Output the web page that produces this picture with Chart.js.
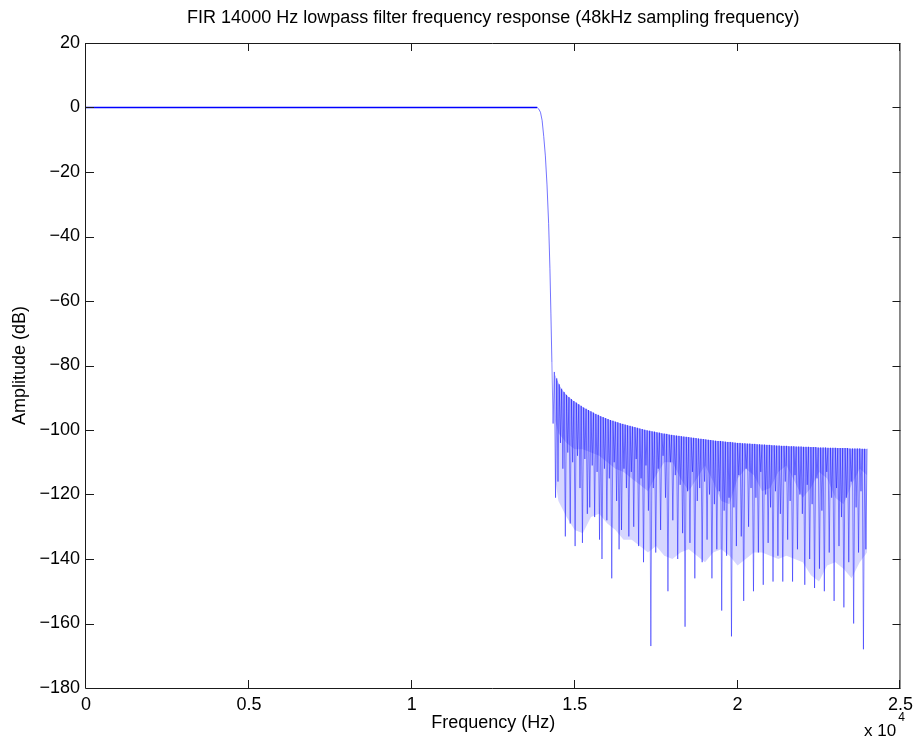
<!DOCTYPE html>
<html><head><meta charset="utf-8">
<script src="https://cdn.jsdelivr.net/npm/chart.js@4.4.1/dist/chart.umd.min.js"></script>
<style>html,body{margin:0;padding:0;background:#fff;}#wrap{position:relative;width:919px;height:745px;}</style>
</head><body><div id="wrap"><canvas id="c" width="919" height="745"></canvas></div>
<script>
// ---- data ----
const titleText = 'FIR 14000 Hz lowpass filter frequency response (48kHz sampling frequency)';
const xAxisTitle = 'Frequency (Hz)';
const yAxisTitle = 'Amplitude (dB)';
const xExponentBase = 'x 10';
const xExponent = '4';
const xTickValues = [0, 5000, 10000, 15000, 20000, 25000];
const xTickLabels = ['0', '0.5', '1', '1.5', '2', '2.5'];
const yTickValues = [20, 0, -20, -40, -60, -80, -100, -120, -140, -160, -180];
const yTickLabels = ['20', '0', '\u221220', '\u221240', '\u221260', '\u221280', '\u2212100', '\u2212120', '\u2212140', '\u2212160', '\u2212180'];

// passband (flat) and transition band
const passFreqHz = [0, 4000, 8000, 12000, 13600, 13850];
const passDb     = [0, 0, 0, 0, 0, 0];
const transFreqHz = [13850, 13900, 13950, 14000, 14050, 14100, 14150, 14200, 14240, 14270, 14300];
const transDb     = [0, -0.5, -1.5, -4, -9, -15, -24, -36, -50, -64, -79];

// stopband: sidelobe peaks and the nulls between them (one lobe every lobeHz)
const stopStartHz = 14300;
const lobeHz = 75;
const stopPeakDb = [
  -79, -82, -84, -85.8, -87.2, -88.2, -89.1, -89.8, -90.4, -91,
  -91.5, -92, -92.5, -93, -93.4, -93.8, -94.2, -94.6, -95, -95.3,
  -95.7, -96, -96.3, -96.6, -96.9, -97.1, -97.4, -97.6, -97.9, -98.1,
  -98.3, -98.5, -98.7, -98.9, -99.1, -99.3, -99.5, -99.7, -99.9, -100.1,
  -100.2, -100.4, -100.5, -100.7, -100.8, -101, -101.1, -101.2, -101.4, -101.5,
  -101.6, -101.7, -101.8, -101.9, -102, -102.1, -102.2, -102.3, -102.4, -102.5,
  -102.6, -102.7, -102.8, -102.9, -103, -103.1, -103.2, -103.3, -103.4, -103.4,
  -103.5, -103.6, -103.7, -103.7, -103.8, -103.9, -104, -104, -104.1, -104.1,
  -104.2, -104.2, -104.3, -104.3, -104.4, -104.4, -104.5, -104.5, -104.6, -104.6,
  -104.7, -104.7, -104.8, -104.8, -104.9, -104.9, -104.9, -105, -105, -105,
  -105.1, -105.1, -105.1, -105.2, -105.2, -105.2, -105.3, -105.3, -105.3, -105.4,
  -105.4, -105.4, -105.4, -105.5, -105.5, -105.5, -105.5, -105.6, -105.6, -105.6,
  -105.6, -105.6, -105.7, -105.7, -105.7, -105.7, -105.7, -105.8, -105.8, -105.8
];
const stopNullDb = [
  -98, -121, -116, -104, -112, -133, -107, -129, -110, -136,
  -108, -118, -135, -109, -126, -124, -111, -127, -113, -134,
  -140, -112, -128, -115, -146, -110, -122, -137, -131, -112,
  -118, -133, -113, -130, -109, -136, -115, -141, -111, -125,
  -167, -118, -138, -112, -131, -108, -121, -150, -110, -128,
  -114, -140, -117, -132, -161, -119, -135, -113, -146, -122,
  -118, -141, -116, -134, -120, -146, -123, -137, -119, -156,
  -125, -139, -121, -164, -124, -136, -114, -133, -153, -112,
  -130, -118, -150, -121, -138, -113, -148, -120, -135, -124,
  -147, -119, -139, -126, -147, -116, -134, -122, -147, -114,
  -137, -120, -126, -148, -117, -140, -123, -149, -115, -143,
  -125, -150, -113, -138, -121, -153, -118, -136, -127, -155,
  -121, -141, -116, -160, -124, -138, -119, -168, -137
];

// shading of the densely overdrawn stopband:
// lower edge of the dense (mid-blue) band and of the light band
const shadeFreqHz = [14400, 14500, 14750, 15000, 15250, 15500, 15750, 16000, 16250,
                     16500, 16750, 17000, 17250, 17500, 17750, 18000, 18250, 18500, 18750,
                     19000, 19250, 19500, 19750, 20000, 20250, 20500, 20750, 21000, 21250,
                     21500, 21750, 22000, 22250, 22500, 22750, 23000, 23250, 23500, 23750, 23975];
const denseFloorDb = [-97, -101, -104, -106, -106, -107, -108, -110, -112,
                      -113, -115, -117, -119, -114, -110, -110, -115, -119, -115,
                      -111, -116, -122, -123, -115, -112, -114, -119, -118, -113,
                      -111, -116, -121, -118, -113, -115, -121, -123, -117, -112, -114];
const lightFloorDb = [-115, -122, -127, -131, -132, -127, -126, -129, -131,
                      -134, -134, -136, -138, -136, -139, -140, -138, -137, -139,
                      -141, -138, -137, -139, -142, -140, -138, -138, -139, -140,
                      -139, -140, -141, -145, -147, -142, -141, -143, -146, -141, -138];

// ---- build datasets from the arrays ----
const passPoints = passFreqHz.map((f, i) => ({x: f, y: passDb[i]}));
const transPoints = transFreqHz.map((f, i) => ({x: f, y: transDb[i]}));
const peakPoints = stopPeakDb.map((p, k) => ({x: stopStartHz + k * lobeHz, y: p}));
const stopPoints = [];
stopPeakDb.forEach((p, k) => {
  stopPoints.push({x: stopStartHz + k * lobeHz, y: p});
  if (k < stopNullDb.length) stopPoints.push({x: stopStartHz + (k + 0.5) * lobeHz, y: stopNullDb[k]});
});
const densePoints = shadeFreqHz.map((f, i) => ({x: f, y: denseFloorDb[i]}));
const lightPoints = shadeFreqHz.map((f, i) => ({x: f, y: lightFloorDb[i]}));

const FONT = '"Liberation Sans", Arial, Helvetica, sans-serif';
const NONE = 'rgba(0,0,0,0)';

const framePlugin = {
  id: 'frame',
  afterDatasetsDraw(chart) {
    const {ctx, chartArea: a, scales: {x, y}} = chart;
    const tl = 8;
    ctx.save();
    ctx.strokeStyle = '#1a1a1a';
    ctx.lineWidth = 1;
    ctx.beginPath();
    ctx.rect(a.left - 0.5, a.top + 0.5, a.right - a.left, a.bottom - a.top);
    xTickValues.forEach(v => {
      const px = Math.round(x.getPixelForValue(v)) - 0.5;
      ctx.moveTo(px, a.bottom); ctx.lineTo(px, a.bottom - tl);
      ctx.moveTo(px, a.top); ctx.lineTo(px, a.top + tl);
    });
    yTickValues.forEach(v => {
      const py = Math.round(y.getPixelForValue(v)) + 0.5;
      ctx.moveTo(a.left, py); ctx.lineTo(a.left + tl, py);
      ctx.moveTo(a.right, py); ctx.lineTo(a.right - tl, py);
    });
    ctx.stroke();
    // exponent label of the x axis
    ctx.fillStyle = '#000';
    ctx.textBaseline = 'middle';
    ctx.textAlign = 'left';
    ctx.font = '17px ' + FONT;
    ctx.fillText(xExponentBase, 864, 731);
    const w = ctx.measureText(xExponentBase).width;
    ctx.font = '12px ' + FONT;
    ctx.fillText(xExponent, 864 + w + 2, 718);
    ctx.restore();
  }
};

const lineBase = {pointRadius: 0, tension: 0, fill: false};

new Chart(document.getElementById('c'), {
  type: 'line',
  data: {
    datasets: [
      // 0: passband
      Object.assign({data: passPoints, borderColor: '#0000ff', borderWidth: 1.5}, lineBase),
      // 1: transition band
      Object.assign({data: transPoints, borderColor: 'rgba(0,0,255,0.55)', borderWidth: 1}, lineBase),
      // 2: sidelobe peak envelope (upper boundary for the shading only)
      Object.assign({data: peakPoints, borderColor: NONE, borderWidth: 0}, lineBase),
      // 3: dense band shading
      {data: densePoints, borderWidth: 0, borderColor: NONE, pointRadius: 0, tension: 0,
       fill: {target: 2, above: NONE, below: 'rgba(0,0,255,0.17)'}},
      // 4: light band shading
      {data: lightPoints, borderWidth: 0, borderColor: NONE, pointRadius: 0, tension: 0,
       fill: {target: 2, above: NONE, below: 'rgba(0,0,255,0.16)'}},
      // 5: stopband response
      Object.assign({data: stopPoints, borderColor: 'rgba(0,0,255,0.45)', borderWidth: 1}, lineBase)
    ]
  },
  options: {
    responsive: false,
    animation: false,
    devicePixelRatio: 1,
    events: [],
    layout: {padding: {top: 0, left: 0, right: 18, bottom: 0}},
    plugins: {
      legend: {display: false},
      tooltip: {enabled: false},
      title: {display: true, text: titleText, color: '#000', fullSize: false,
              font: {family: FONT, size: 18, weight: 'normal'},
              padding: {top: 7.2, bottom: 14.2}}
    },
    scales: {
      x: {
        type: 'linear', min: 0, max: 25000,
        grid: {display: false, drawTicks: false},
        border: {display: false},
        afterBuildTicks(s) { s.ticks = xTickValues.map(v => ({value: v})); },
        afterFit(s) { s.height = 57; },
        ticks: {color: '#000', font: {family: FONT, size: 18}, padding: 6, maxRotation: 0,
                callback: v => xTickLabels[xTickValues.indexOf(v)]},
        title: {display: true, text: xAxisTitle, color: '#000', font: {family: FONT, size: 18},
                padding: {top: 0, bottom: 11}}
      },
      y: {
        type: 'linear', min: -180, max: 20,
        grid: {display: false, drawTicks: false},
        border: {display: false},
        afterBuildTicks(s) { s.ticks = yTickValues.map(v => ({value: v})); },
        afterFit(s) { s.width = 86; },
        ticks: {color: '#000', font: {family: FONT, size: 18}, padding: 6,
                callback: v => yTickLabels[yTickValues.indexOf(v)]},
        title: {display: true, text: yAxisTitle, color: '#000', font: {family: FONT, size: 18},
                padding: {top: 9.2, bottom: 0}}
      }
    }
  },
  plugins: [framePlugin]
});
</script></body></html>
